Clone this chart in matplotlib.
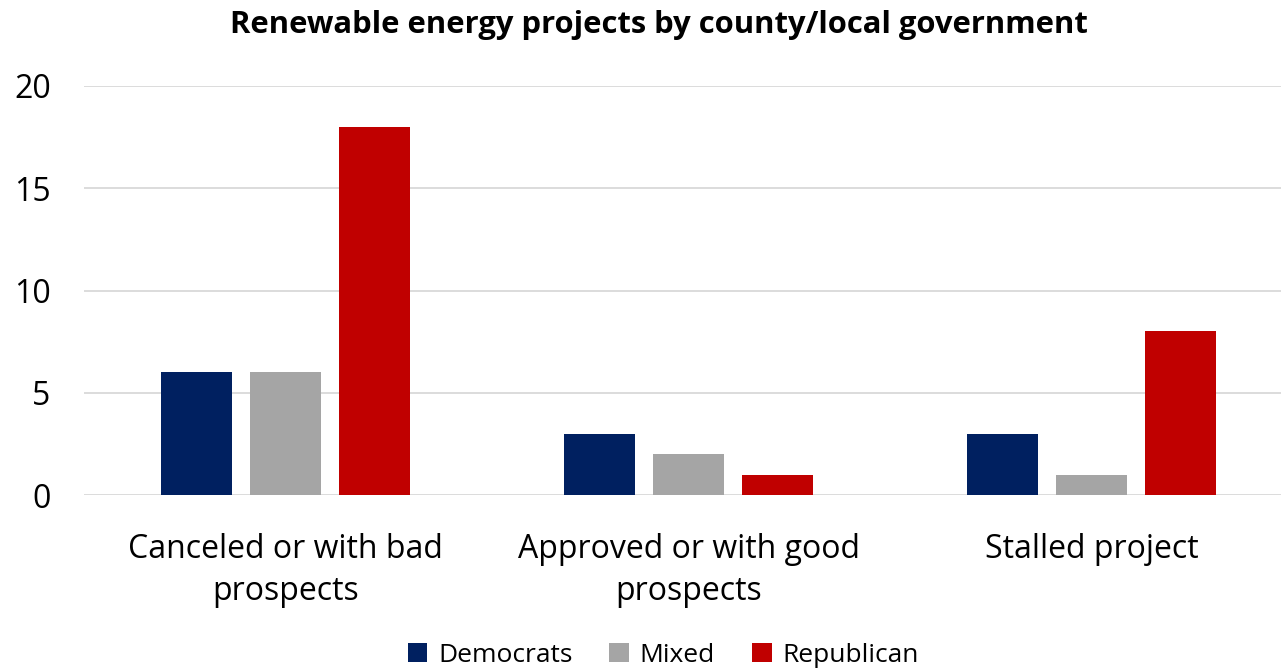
import numpy as np
import matplotlib
matplotlib.use("Agg")
import matplotlib.pyplot as plt
from matplotlib.patches import Patch

plt.rcParams["font.family"] = ["Open Sans", "DejaVu Sans"]

# data
categories = ["Canceled or with bad\nprospects", "Approved or with good\nprospects", "Stalled project"]
series = ["Democrats", "Mixed", "Republican"]
democrats = [6, 3, 3]
mixed = [6, 2, 1]
republican = [18, 1, 8]
colors = ["#002060", "#A5A5A5", "#C00000"]

W, H = 1281, 671
fig = plt.figure(figsize=(W / 100, H / 100), dpi=100)
ax = fig.add_axes([84 / W, 176 / H, 1 - 84 / W, 409 / H])

x = np.arange(len(categories))
bw = 71 / 403
step = 89 / 403
for i, (vals, c) in enumerate(zip([democrats, mixed, republican], colors)):
    ax.bar(x + (i - 1) * step, vals, width=bw, color=c, zorder=3)

ax.set_xlim(-0.5, (W - 84) / 403 - 0.5)
ax.set_ylim(0, 20)
ax.set_yticks([0, 5, 10, 15, 20])
ax.yaxis.grid(True, color="#D9D9D9", linewidth=1.3, zorder=0)
ax.set_axisbelow(True)
for s in ax.spines.values():
    s.set_visible(False)
ax.tick_params(axis="y", length=0, labelsize=23, colors="#000000", pad=24)
ax.tick_params(axis="x", length=0, labelsize=23, pad=27)
ax.set_xticks(x)
ax.set_xticklabels(categories, linespacing=1.38)

fig.text(659 / W, 1 - 25 / H, "Renewable energy projects by county/local government",
         ha="center", va="center", fontsize=22.3, fontweight="bold")

handles = [Patch(facecolor=c, label=s) for s, c in zip(series, colors)]
fig.legend(handles=handles, loc="center", bbox_to_anchor=(663 / W, 1 - 655 / H),
           ncol=3, frameon=False, fontsize=19, handlelength=0.75, handleheight=0.75,
           columnspacing=1.4, handletextpad=0.4)

fig.savefig("out.png", dpi=100)
